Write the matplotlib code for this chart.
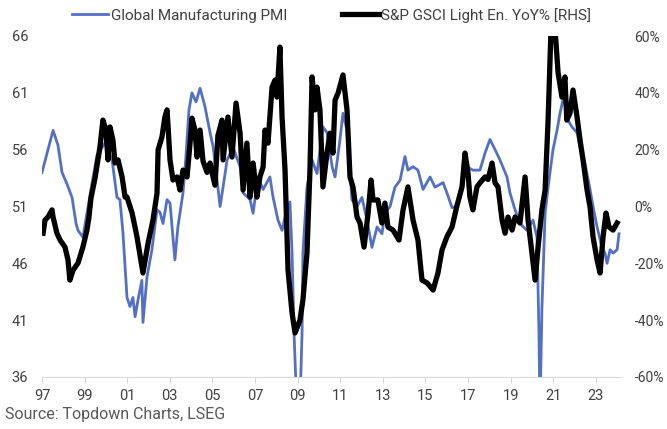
import matplotlib
matplotlib.use("Agg")
import matplotlib.pyplot as plt
from matplotlib.ticker import FuncFormatter

plt.rcParams['font.family'] = ['Roboto', 'DejaVu Sans']

# Global Manufacturing PMI (decimal year, index level)
pmi_t = [1997.00, 1997.52, 1997.75, 1997.94, 1998.17, 1998.41, 1998.60, 1998.69, 1998.92,
         1999.11, 1999.39, 1999.58, 1999.96, 2000.29, 2000.52, 2000.66, 2000.80, 2000.99,
         2001.13, 2001.27, 2001.37, 2001.51, 2001.69, 2001.74, 2001.93, 2002.16, 2002.40,
         2002.54, 2002.68, 2002.87, 2003.01, 2003.24, 2003.38, 2003.62, 2003.76, 2003.90,
         2004.04, 2004.23, 2004.42, 2004.65, 2004.89, 2005.03, 2005.22, 2005.36, 2005.50,
         2005.69, 2005.97, 2006.30, 2006.44, 2006.77, 2006.91, 2007.14, 2007.38, 2007.70,
         2007.85, 2008.08, 2008.27, 2008.46, 2008.64, 2008.74, 2008.83, 2008.97, 2009.11,
         2009.21, 2009.25, 2009.44, 2009.68, 2009.91, 2010.19, 2010.38, 2010.62, 2010.76,
         2010.99, 2011.13, 2011.32, 2011.55, 2011.79, 2012.02, 2012.26, 2012.49, 2012.73,
         2012.96, 2013.10, 2013.34, 2013.57, 2013.81, 2014.04, 2014.18, 2014.42, 2014.65,
         2014.89, 2015.22, 2015.45, 2015.83, 2016.01, 2016.25, 2016.48, 2016.77, 2016.95,
         2017.23, 2017.56, 2017.80, 2018.03, 2018.27, 2018.50, 2018.83, 2018.97, 2019.21,
         2019.44, 2019.77, 2020.05, 2020.24, 2020.33, 2020.38, 2020.47, 2020.62, 2020.76,
         2020.99, 2021.18, 2021.32, 2021.46, 2021.55, 2021.69, 2021.88, 2022.12, 2022.26,
         2022.49, 2022.73, 2022.87, 2023.06, 2023.29, 2023.43, 2023.53, 2023.67, 2023.81,
         2024.00, 2024.09]
pmi = [54.0, 57.7, 56.4, 54.0, 53.0, 51.8, 49.5, 48.9, 48.3,
       50.4, 53.5, 55.5, 56.6, 55.1, 51.8, 51.6, 48.7, 43.0,
       42.2, 43.0, 41.3, 42.8, 44.5, 40.8, 44.8, 47.2, 50.7,
       50.5, 49.5, 51.6, 51.3, 46.3, 49.2, 52.2, 55.5, 59.5,
       61.0, 60.2, 61.4, 59.8, 57.5, 56.3, 53.3, 51.0, 52.7,
       55.1, 56.2, 54.5, 52.2, 51.6, 50.4, 53.6, 52.5, 53.6,
       51.8, 49.8, 48.9, 50.5, 51.4, 46.9, 40.0, 33.0, 33.5,
       40.0, 46.9, 52.7, 55.1, 53.9, 58.0, 57.5, 54.5, 53.6,
       56.9, 59.2, 57.7, 51.6, 51.0, 51.8, 49.8, 47.4, 49.2,
       48.6, 50.4, 51.0, 52.7, 53.3, 55.4, 54.2, 54.5, 54.2,
       52.5, 53.6, 52.7, 53.1, 52.2, 50.9, 51.0, 53.6, 54.5,
       54.2, 54.2, 55.7, 56.9, 56.0, 55.1, 53.6, 52.2, 50.7,
       49.5, 48.9, 49.8, 48.3, 40.0, 33.0, 42.0, 50.4, 52.7,
       56.0, 57.7, 59.2, 60.4, 60.1, 58.6, 58.0, 57.5, 56.2,
       54.8, 52.5, 51.0, 49.2, 47.4, 46.9, 46.0, 47.2, 46.9,
       47.2, 48.6]

# S&P GSCI Light Energy YoY % (decimal year, percent)
gsci_t = [1997.05, 1997.14, 1997.28, 1997.47, 1997.52, 1997.70, 1997.85, 1998.08, 1998.22,
          1998.31, 1998.46, 1998.69, 1998.92, 1999.11, 1999.20, 1999.30, 1999.49, 1999.72,
          1999.86, 2000.00, 2000.10, 2000.19, 2000.33, 2000.43, 2000.57, 2000.76, 2000.90,
          2000.99, 2001.23, 2001.46, 2001.69, 2001.74, 2001.98, 2002.21, 2002.40, 2002.45,
          2002.63, 2002.77, 2002.87, 2002.92, 2003.01, 2003.15, 2003.34, 2003.48, 2003.62,
          2003.81, 2003.95, 2004.04, 2004.18, 2004.28, 2004.42, 2004.56, 2004.75, 2004.89,
          2005.03, 2005.12, 2005.26, 2005.45, 2005.50, 2005.73, 2005.92, 2006.11, 2006.30,
          2006.44, 2006.62, 2006.77, 2006.91, 2007.09, 2007.23, 2007.38, 2007.47, 2007.61,
          2007.80, 2007.94, 2008.03, 2008.17, 2008.27, 2008.41, 2008.55, 2008.74, 2008.88,
          2009.11, 2009.25, 2009.44, 2009.58, 2009.68, 2009.82, 2009.91, 2010.05, 2010.19,
          2010.38, 2010.52, 2010.66, 2010.76, 2010.90, 2011.13, 2011.32, 2011.46, 2011.60,
          2011.79, 2011.93, 2012.12, 2012.31, 2012.45, 2012.54, 2012.77, 2012.96, 2013.10,
          2013.24, 2013.48, 2013.76, 2013.95, 2014.18, 2014.42, 2014.65, 2014.84, 2015.08,
          2015.36, 2015.59, 2015.78, 2016.01, 2016.25, 2016.48, 2016.72, 2016.86, 2017.00,
          2017.09, 2017.23, 2017.42, 2017.56, 2017.80, 2017.94, 2018.13, 2018.27, 2018.41,
          2018.60, 2018.74, 2018.88, 2019.07, 2019.21, 2019.44, 2019.68, 2019.82, 2020.00,
          2020.15, 2020.29, 2020.47, 2020.62, 2020.76, 2020.90, 2021.08, 2021.23, 2021.41,
          2021.55, 2021.64, 2021.79, 2021.93, 2022.12, 2022.26, 2022.40, 2022.59, 2022.73,
          2022.87, 2023.06, 2023.20, 2023.34, 2023.48, 2023.62, 2023.81, 2024.00]
gsci = [-9.4, -4.8, -3.7, -1.2, -3.7, -9.4, -11.8, -14.3, -18.8,
        -25.9, -22.4, -19.9, -14.3, -8.3, -4.0, 3.0, 10.0, 20.9,
        30.4, 26.9, 16.4, 28.0, 23.4, 15.3, 16.4, 10.4, 3.3,
        3.3, -2.3, -10.7, -21.3, -23.4, -12.9, -4.8, 4.7, 19.9,
        24.4, 31.5, 34.0, 28.0, 16.4, 9.3, 10.4, 5.8, 12.8,
        10.4, 22.3, 31.1, 26.9, 17.4, 26.9, 16.0, 12.0, 15.3,
        10.4, 7.5, 25.0, 30.4, 16.4, 31.5, 17.4, 36.4, 25.8,
        5.8, 22.3, 3.3, 15.3, 3.3, 10.4, 13.9, 26.9, 22.3,
        42.0, 44.5, 38.5, 56.1, 31.5, 12.8, -22.4, -37.5, -44.5,
        -40.0, -32.9, -16.4, 12.8, 45.6, 34.0, 42.0, 34.0, 6.9,
        18.8, 25.8, 18.8, 37.5, 39.9, 46.3, 34.0, 10.4, 6.9,
        -3.7, -5.8, -14.3, -2.3, 9.3, 2.3, 2.3, -5.8, 1.2,
        -7.2, -8.3, -11.8, -1.2, 6.9, -4.8, -11.8, -25.9, -26.9,
        -29.4, -23.4, -15.3, -10.7, -7.2, 0.2, 6.9, 18.8, 11.8,
        3.3, -1.2, 6.9, 8.3, 10.4, 9.5, 15.3, 8.3, 6.9,
        -4.8, -9.4, -3.7, -8.3, -3.7, -5.8, 10.4, -4.8, -16.4,
        -25.9, -14.3, -1.2, 5.8, 30.4, 63.0, 63.0, 47.0, 38.5,
        45.6, 30.4, 32.9, 41.0, 31.5, 23.4, 16.4, 5.8, -0.2,
        -10.7, -18.8, -23.4, -10.7, -2.3, -7.2, -8.3, -5.8]

year_ticks = list(range(1997, 2024, 2))
year_labels = [str(y)[-2:] for y in year_ticks]
pmi_ticks = [36, 41, 46, 51, 56, 61, 66]
pct_ticks = [-60, -40, -20, 0, 20, 40, 60]

blue = '#5470c6'
txt = '#404040'

fig = plt.figure(figsize=(6.67, 4.29), dpi=100)
ax = fig.add_axes([42 / 667, 1 - 377 / 429, 580 / 667, 341 / 429])
ax2 = ax.twinx()

ax.plot(pmi_t, pmi, color=blue, lw=2.0, label='Global Manufacturing PMI', solid_joinstyle='round')
ax2.plot(gsci_t, gsci, color='black', lw=3.8, label='S&P GSCI Light En. YoY% [RHS]',
         solid_joinstyle='round')

ax.set_xlim(1997.0, 2024.23)
ax.set_ylim(36, 66)
ax2.set_ylim(-60, 60)

ax.set_xticks(year_ticks)
ax.set_xticklabels(year_labels)
ax.set_yticks(pmi_ticks)
ax2.set_yticks(pct_ticks)
ax2.yaxis.set_major_formatter(FuncFormatter(lambda v, p: f'{int(v)}%'))

for a in (ax, ax2):
    for s in a.spines.values():
        s.set_visible(False)
ax.spines['bottom'].set_visible(True)
ax.spines['bottom'].set_color('#d9d9d9')
ax.tick_params(axis='x', length=4, color='#d9d9d9', labelsize=10.5, labelcolor=txt, pad=5)
ax.tick_params(axis='y', length=0, labelsize=10.5, labelcolor=txt, pad=10)
ax2.tick_params(axis='y', length=0, labelsize=10, labelcolor=txt, pad=9)

h1, l1 = ax.get_legend_handles_labels()
h2, l2 = ax2.get_legend_handles_labels()
fig.legend(h1 + h2, l1 + l2, loc='upper left', bbox_to_anchor=(64 / 667, 1.0), ncol=2,
           frameon=False, fontsize=11, handlelength=2.4, handletextpad=0.15,
           columnspacing=3.6, labelcolor=txt, borderaxespad=0.1)

fig.text(5 / 667, 1 - 414 / 429, 'Source: Topdown Charts, LSEG', fontsize=11.5,
         color='#595959', va='center', ha='left')

fig.savefig('out.png', dpi=100)
